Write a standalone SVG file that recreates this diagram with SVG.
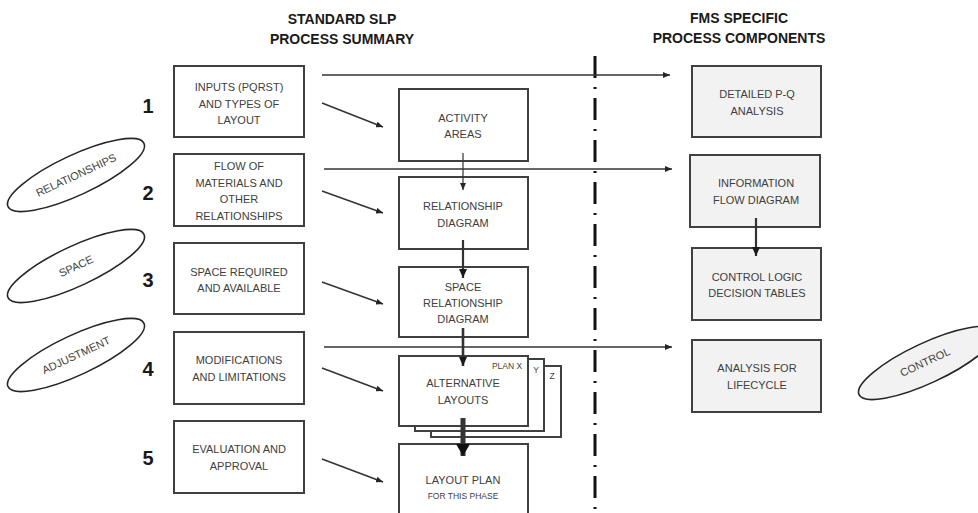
<svg xmlns="http://www.w3.org/2000/svg" width="978" height="513" viewBox="0 0 978 513">
<style>
  .box { fill: #ffffff; stroke: #404040; stroke-width: 2; }
  .gbox { fill: #f2f2f2; stroke: #404040; stroke-width: 2; }
  .ell { fill: #ffffff; stroke: #262626; stroke-width: 1.6; }
  .gell { fill: #f2f2f2; stroke: #262626; stroke-width: 1.6; }
  .t { font-family: "Liberation Sans", Arial, sans-serif; font-size: 11px; fill: #404040; text-anchor: middle; }
  .ts { font-family: "Liberation Sans", Arial, sans-serif; font-size: 8.5px; fill: #404040; text-anchor: middle; }
  .title { font-family: "Liberation Sans", Arial, sans-serif; font-size: 14px; font-weight: bold; fill: #1a1a1a; text-anchor: middle; }
  .num { font-family: "Liberation Sans", Arial, sans-serif; font-size: 20px; font-weight: bold; fill: #1a1a1a; text-anchor: middle; }
  .ln { stroke: #333333; fill: none; }
</style>
<defs>
  <marker id="ah" markerUnits="userSpaceOnUse" markerWidth="7" markerHeight="6" refX="7" refY="3" orient="auto">
    <path d="M0,0 L7,3 L0,6 z" fill="#262626"/>
  </marker>
  <marker id="ahm" markerUnits="userSpaceOnUse" markerWidth="9" markerHeight="8" refX="9" refY="4" orient="auto">
    <path d="M0,0 L9,4 L0,8 z" fill="#1a1a1a"/>
  </marker>
  <marker id="ahl" markerUnits="userSpaceOnUse" markerWidth="12" markerHeight="14" refX="12" refY="7" orient="auto">
    <path d="M0,0 L12,7 L0,14 z" fill="#111111"/>
  </marker>
</defs>

<g id="titles">
  <text class="title" x="342" y="24">STANDARD SLP</text>
  <text class="title" x="342" y="44">PROCESS SUMMARY</text>
  <text class="title" x="739" y="23">FMS SPECIFIC</text>
  <text class="title" x="739" y="43">PROCESS COMPONENTS</text>
</g>

<g id="numbers">
  <text class="num" x="148" y="113">1</text>
  <text class="num" x="148" y="200">2</text>
  <text class="num" x="148" y="287">3</text>
  <text class="num" x="148" y="376">4</text>
  <text class="num" x="148" y="465">5</text>
</g>

<g id="divider">
  <line x1="595" y1="56" x2="595" y2="520" stroke="#111111" stroke-width="3" stroke-dasharray="22 9 2 9"/>
</g>

<g id="connectors">
  <line class="ln" x1="322" y1="75" x2="670" y2="75" stroke-width="1.6" marker-end="url(#ah)"/>
  <line class="ln" x1="324" y1="169" x2="672" y2="169" stroke-width="1.6" marker-end="url(#ah)"/>
  <line class="ln" x1="324" y1="347" x2="672" y2="347" stroke-width="1.6" marker-end="url(#ah)"/>
  <line class="ln" x1="322" y1="103" x2="383" y2="127" stroke-width="1.5" marker-end="url(#ah)"/>
  <line class="ln" x1="322" y1="191" x2="383" y2="213" stroke-width="1.5" marker-end="url(#ah)"/>
  <line class="ln" x1="322" y1="282" x2="383" y2="304" stroke-width="1.5" marker-end="url(#ah)"/>
  <line class="ln" x1="322" y1="368" x2="383" y2="391" stroke-width="1.5" marker-end="url(#ah)"/>
  <line class="ln" x1="322" y1="459" x2="383" y2="482" stroke-width="1.5" marker-end="url(#ah)"/>
</g>

<g id="left-1">
  <rect class="box" x="174" y="66" width="130" height="71"/>
  <text class="t" x="239" y="91">INPUTS (PQRST)</text>
  <text class="t" x="239" y="108">AND TYPES OF</text>
  <text class="t" x="239" y="124">LAYOUT</text>
</g>
<g id="left-2">
  <rect class="box" x="174" y="154" width="130" height="72"/>
  <text class="t" x="239" y="170">FLOW OF</text>
  <text class="t" x="239" y="187">MATERIALS AND</text>
  <text class="t" x="239" y="203">OTHER</text>
  <text class="t" x="239" y="220">RELATIONSHIPS</text>
</g>
<g id="left-3">
  <rect class="box" x="174" y="243" width="130" height="71"/>
  <text class="t" x="239" y="276">SPACE REQUIRED</text>
  <text class="t" x="239" y="292">AND AVAILABLE</text>
</g>
<g id="left-4">
  <rect class="box" x="174" y="332" width="130" height="72"/>
  <text class="t" x="239" y="364">MODIFICATIONS</text>
  <text class="t" x="239" y="381">AND LIMITATIONS</text>
</g>
<g id="left-5">
  <rect class="box" x="174" y="421" width="130" height="72"/>
  <text class="t" x="239" y="453">EVALUATION AND</text>
  <text class="t" x="239" y="470">APPROVAL</text>
</g>

<g id="activity-areas">
  <rect class="box" x="399" y="89" width="129" height="72"/>
  <text class="t" x="463" y="122">ACTIVITY</text>
  <text class="t" x="463" y="138">AREAS</text>
</g>
<g id="relationship-diagram">
  <rect class="box" x="399" y="177" width="129" height="72"/>
  <text class="t" x="463" y="210">RELATIONSHIP</text>
  <text class="t" x="463" y="227">DIAGRAM</text>
</g>
<g id="space-relationship-diagram">
  <rect class="box" x="399" y="267" width="129" height="70"/>
  <text class="t" x="463" y="291">SPACE</text>
  <text class="t" x="463" y="307">RELATIONSHIP</text>
  <text class="t" x="463" y="323">DIAGRAM</text>
</g>
<g id="alternative-layouts">
  <rect class="box" x="431" y="366" width="130" height="71"/>
  <rect class="box" x="415" y="359" width="129" height="72"/>
  <rect class="box" x="399" y="356" width="129" height="70"/>
  <text class="ts" x="507" y="369">PLAN X</text>
  <text class="ts" x="536" y="373">Y</text>
  <text class="ts" x="552" y="379">Z</text>
  <text class="t" x="463" y="387">ALTERNATIVE</text>
  <text class="t" x="463" y="404">LAYOUTS</text>
</g>
<g id="layout-plan">
  <rect class="box" x="399" y="444" width="129" height="90"/>
  <text class="t" x="463" y="484">LAYOUT PLAN</text>
  <text class="ts" x="463" y="499">FOR THIS PHASE</text>
</g>

<g id="detailed-pq">
  <rect class="gbox" x="692" y="66" width="129" height="71"/>
  <text class="t" x="757" y="98">DETAILED P-Q</text>
  <text class="t" x="757" y="115">ANALYSIS</text>
</g>
<g id="information-flow">
  <rect class="gbox" x="690" y="155" width="130" height="72"/>
  <text class="t" x="756" y="187">INFORMATION</text>
  <text class="t" x="756" y="204">FLOW DIAGRAM</text>
</g>
<g id="control-logic">
  <rect class="gbox" x="692" y="248" width="129" height="72"/>
  <text class="t" x="757" y="281">CONTROL LOGIC</text>
  <text class="t" x="757" y="297">DECISION TABLES</text>
</g>
<g id="analysis-lifecycle">
  <rect class="gbox" x="692" y="340" width="129" height="72"/>
  <text class="t" x="757" y="372">ANALYSIS FOR</text>
  <text class="t" x="757" y="389">LIFECYCLE</text>
</g>

<g id="vertical-arrows">
  <line class="ln" x1="463" y1="153" x2="463" y2="190" stroke-width="1.2" marker-end="url(#ah)"/>
  <line class="ln" x1="463" y1="240" x2="463" y2="278" stroke-width="2.2" marker-end="url(#ahm)"/>
  <line class="ln" x1="463" y1="328" x2="463" y2="366" stroke-width="2.6" marker-end="url(#ahm)"/>
  <line class="ln" x1="463" y1="418" x2="463" y2="456" stroke-width="5" stroke="#111111" marker-end="url(#ahl)"/>
  <line class="ln" x1="756" y1="218" x2="756" y2="256" stroke-width="2.2" marker-end="url(#ahm)"/>
</g>

<g id="ellipse-relationships">
  <ellipse class="ell" cx="76" cy="175" rx="75" ry="20" transform="rotate(-25 76 175)"/>
  <text class="t" x="76" y="179" transform="rotate(-25 76 175)">RELATIONSHIPS</text>
</g>
<g id="ellipse-space">
  <ellipse class="ell" cx="76" cy="266" rx="75" ry="20" transform="rotate(-25 76 266)"/>
  <text class="t" x="76" y="270" transform="rotate(-25 76 266)">SPACE</text>
</g>
<g id="ellipse-adjustment">
  <ellipse class="ell" cx="76" cy="355" rx="75" ry="20" transform="rotate(-25 76 355)"/>
  <text class="t" x="76" y="359" transform="rotate(-25 76 355)">ADJUSTMENT</text>
</g>
<g id="ellipse-control">
  <ellipse class="gell" cx="927" cy="363" rx="75" ry="20" transform="rotate(-25 927 363)"/>
  <text class="t" x="925" y="366" transform="rotate(-25 925 362)">CONTROL</text>
</g>
</svg>
